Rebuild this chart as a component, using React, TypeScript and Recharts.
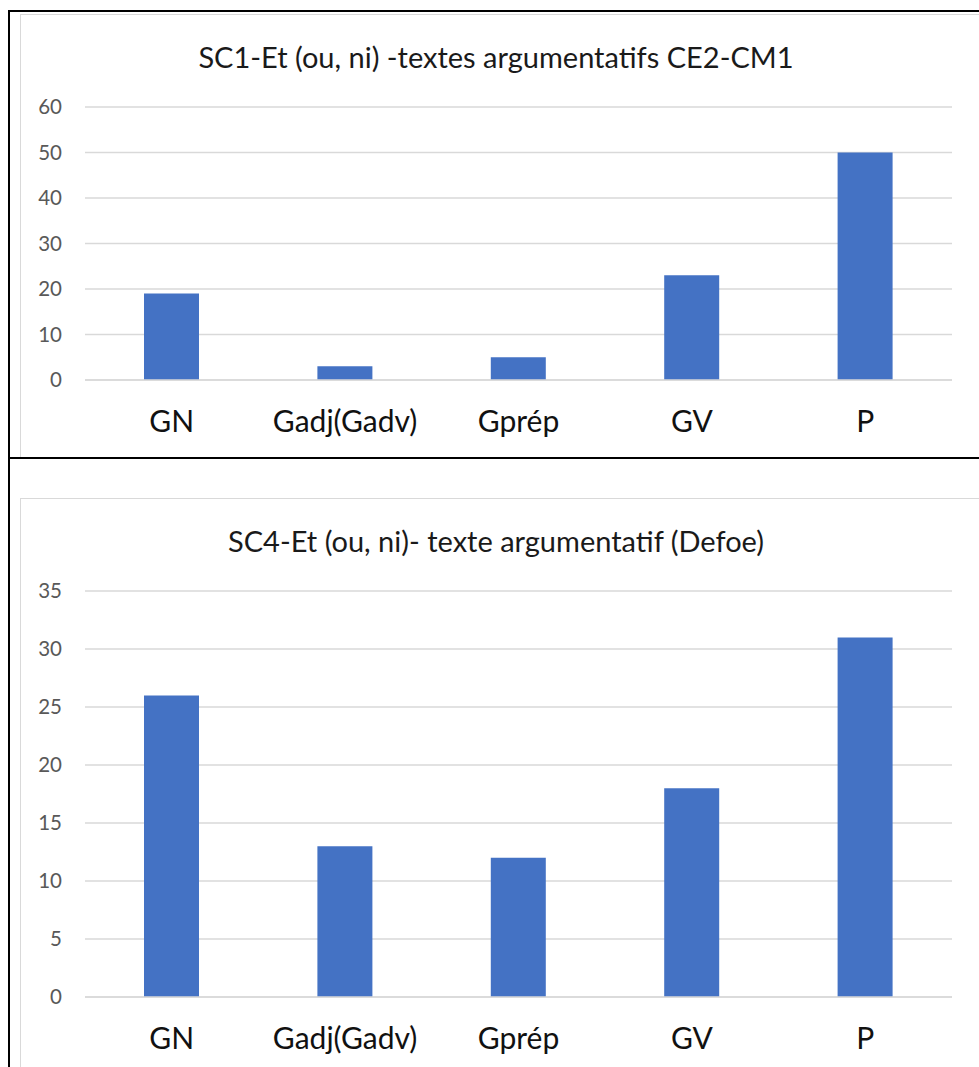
import React from "react";
import { BarChart, Bar, XAxis, YAxis, CartesianGrid } from "recharts";

const categories = ["GN", "Gadj(Gadv)", "Gprép", "GV", "P"];
const sc1Values = [19, 3, 5, 23, 50];
const sc4Values = [26, 13, 12, 18, 31];
const sc1Ticks = [0, 10, 20, 30, 40, 50, 60];
const sc4Ticks = [0, 5, 10, 15, 20, 25, 30, 35];
const sc1Title = "SC1-Et (ou, ni) -textes argumentatifs CE2-CM1";
const sc4Title = "SC4-Et (ou, ni)- texte argumentatif (Defoe)";

const FONT = "Lato, 'Open Sans', sans-serif";
const GRID = "#d9d9d9";
const BAR = "#4472C4";

type PanelProps = {
  title: string;
  values: number[];
  ticks: number[];
  top: number;
  height: number;
  plotBottom: number;
};

function Panel({ title, values, ticks, top, height, plotBottom }: PanelProps) {
  const data = categories.map((c, i) => ({ name: c, value: values[i] }));
  const W = 959;
  return (
    <div
      style={{
        position: "absolute",
        left: 20,
        top,
        width: W + 20,
        height,
        borderLeft: `1px solid ${GRID}`,
        borderTop: `1px solid ${GRID}`,
        boxSizing: "border-box",
        background: "#fff",
      }}
    >
      <div
        style={{
          position: "absolute",
          left: 475 - 450,
          width: 900,
          top: 25,
          textAlign: "center",
          fontFamily: FONT,
          fontSize: 29,
          color: "#1a1a1a",
          lineHeight: "34px",
          whiteSpace: "nowrap",
        }}
      >
        {title}
      </div>
      <div style={{ position: "absolute", left: -1, top: -1 }}>
        <BarChart
          width={W}
          height={plotBottom + 78}
          data={data}
          margin={{ top: 93, right: 27, left: 0, bottom: 18 }}
          barSize={55}
        >
          <CartesianGrid vertical={false} stroke={GRID} strokeWidth={1.5} />
          <XAxis
            dataKey="name"
            axisLine={{ stroke: GRID, strokeWidth: 1.5 }}
            tickLine={false}
            tickSize={6}
            tickMargin={25}
            height={60}
            interval={0}
            tick={{ fill: "#111", fontSize: 30, fontFamily: FONT }}
          />
          <YAxis
            width={65}
            domain={[0, ticks[ticks.length - 1]]}
            ticks={ticks}
            axisLine={false}
            tickLine={false}
            tickSize={6}
            tickMargin={17}
            interval={0}
            tick={{ fill: "#595959", fontSize: 20.5, fontFamily: FONT }}
          />
          <Bar dataKey="value" fill={BAR} isAnimationActive={false} />
        </BarChart>
      </div>
    </div>
  );
}

export default function App() {
  return (
    <div
      style={{
        position: "fixed",
        left: 0,
        top: 0,
        width: 979,
        height: 1067,
        overflow: "hidden",
        background: "#fff",
      }}
    >
      <Panel title={sc1Title} values={sc1Values} ticks={sc1Ticks} top={14} height={444} plotBottom={366} />
      <Panel title={sc4Title} values={sc4Values} ticks={sc4Ticks} top={498} height={600} plotBottom={499} />
      {/* table borders */}
      <div style={{ position: "absolute", left: 8, top: 10, width: 971, height: 2, background: "#000" }} />
      <div style={{ position: "absolute", left: 8, top: 10, width: 2, height: 1057, background: "#000" }} />
      <div style={{ position: "absolute", left: 8, top: 457, width: 971, height: 1.5, background: "#000" }} />
    </div>
  );
}
